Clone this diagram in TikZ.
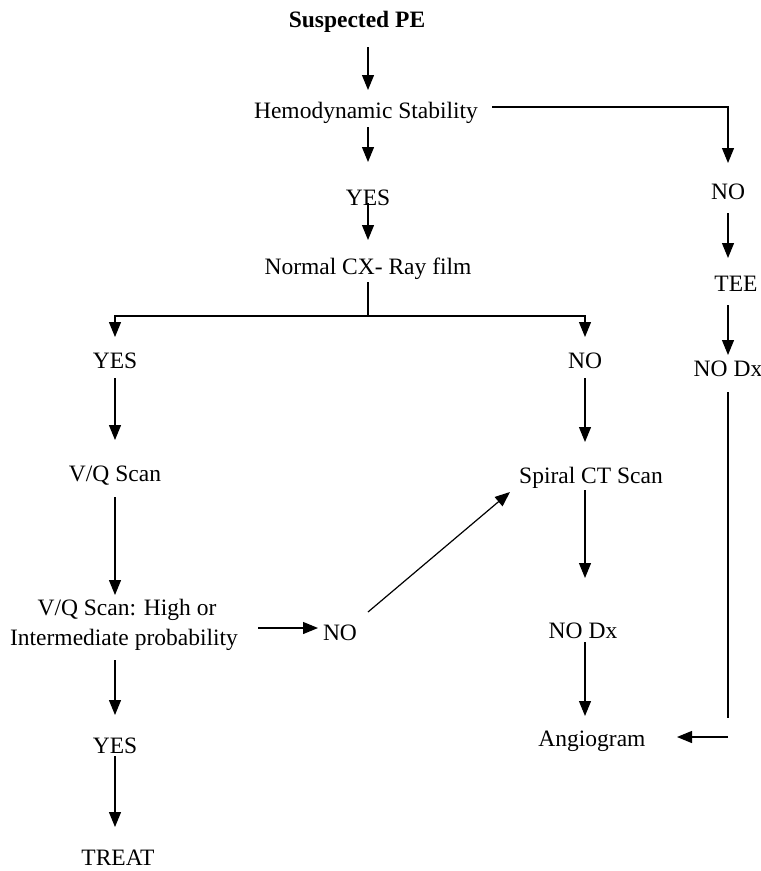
\documentclass[tikz,border=0pt]{standalone}
\usepackage{fontspec}
\setmainfont{Liberation Serif}
\usetikzlibrary{arrows.meta}
\begin{document}
\begin{tikzpicture}[x=1pt,y=-1pt,
  lbl/.style={anchor=base,inner sep=0pt,font=\fontsize{23.5}{28}\selectfont},
  lblb/.style={lbl,font=\fontsize{23.5}{28}\selectfont\bfseries},
  ln/.style={line width=1.2pt},
  arr/.style={ln,-{Triangle[length=15pt,width=12pt]}}]
\useasboundingbox (0,0) rectangle (761,871);
% nodes
\node[lblb] (sus) at (357,27) {Suspected PE};
\node[lbl] (hemo) at (366,118) {Hemodynamic Stability};
\node[lbl] (noR) at (728,199) {NO};
\node[lbl] (tee) at (736,291) {TEE};
\node[lbl] (nodxR) at (728,376) {NO Dx};
\node[lbl] (yesT) at (368,205) {YES};
\node[lbl] (cx) at (368,274) {Normal CX- Ray film};
\node[lbl] (yesL) at (115,368) {YES};
\node[lbl] (noM) at (585,368) {NO};
\node[lbl] (vq) at (115,481) {V/Q Scan};
\node[lbl] (ct) at (591,483) {Spiral CT Scan};
\node[lbl] (vq1) at (127,615) {V/Q Scan: High or};
\node[lbl] (vq2) at (124,645) {Intermediate probability};
\node[lbl] (noMid) at (340,640) {NO};
\node[lbl] (nodxM) at (583,638) {NO Dx};
\node[lbl] (ang) at (592,746) {Angiogram};
\node[lbl] (yesB) at (115,753) {YES};
\node[lbl] (treat) at (118,865) {TREAT};
% connectors
\draw[arr] ([shift={(11,20)}]sus.base) -- ([shift={(2,-28)}]hemo.base);
\draw[arr] ([shift={(126,-11)}]hemo.base) -| ([shift={(0,-36)}]noR.base);
\draw[arr] ([shift={(0,14)}]noR.base) -- ([shift={(-8,-33)}]tee.base);
\draw[arr] ([shift={(-8,14)}]tee.base) -- ([shift={(0,-21)}]nodxR.base);
\draw[ln] ([shift={(0,16)}]nodxR.base) -- ([shift={(0,342)}]nodxR.base);
\draw[arr] ([shift={(136,-9)}]ang.base) -- ([shift={(85,-9)}]ang.base);
\draw[arr] ([shift={(2,9)}]hemo.base) -- ([shift={(0,-43)}]yesT.base);
\draw[arr] ([shift={(0,-2)}]yesT.base) -- ([shift={(0,-34)}]cx.base);
\draw[ln] ([shift={(0,8)}]cx.base) -- ([shift={(0,42)}]cx.base);
\draw[arr] ([shift={(0,42)}]cx.base) -| ([shift={(0,-31)}]yesL.base);
\draw[arr] ([shift={(0,42)}]cx.base) -| ([shift={(0,-31)}]noM.base);
\draw[arr] ([shift={(0,10)}]yesL.base) -- ([shift={(0,-41)}]vq.base);
\draw[arr] ([shift={(0,16)}]vq.base) -- ([shift={(-12,-20)}]vq1.base);
\draw[arr] ([shift={(-9,15)}]vq2.base) -- ([shift={(0,-38)}]yesB.base);
\draw[arr] ([shift={(0,3)}]yesB.base) -- ([shift={(-3,-38)}]treat.base);
\draw[arr] ([shift={(134,-17)}]vq2.base) -- ([shift={(-22,-12)}]noMid.base);
\draw[arr] ([shift={(28,-28)}]noMid.base) -- ([shift={(-81,9)}]ct.base);
\draw[arr] ([shift={(0,10)}]noM.base) -- ([shift={(-6,-41)}]ct.base);
\draw[arr] ([shift={(-6,7)}]ct.base) -- ([shift={(2,-60)}]nodxM.base);
\draw[arr] ([shift={(2,4)}]nodxM.base) -- ([shift={(-7,-30)}]ang.base);
\end{tikzpicture}
\end{document}
